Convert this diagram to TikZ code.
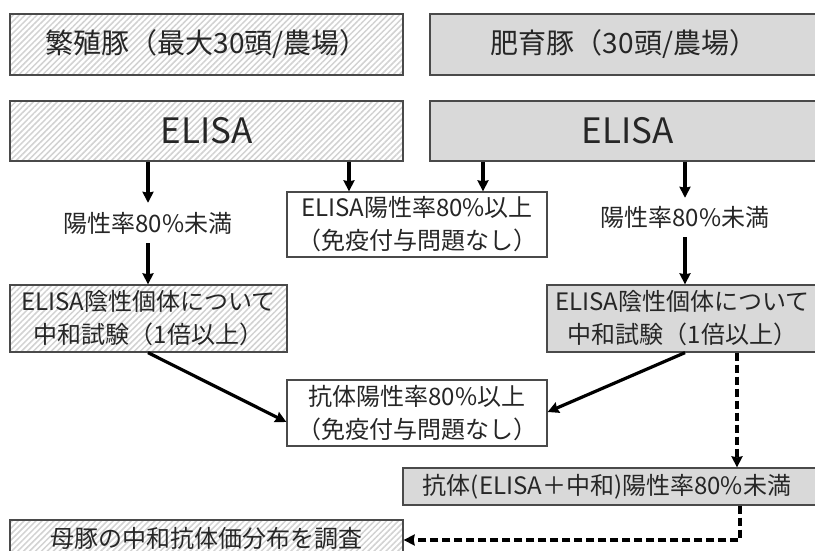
\documentclass[tikz,border=0pt]{standalone}
\usepackage{fontspec}
\setmainfont{Noto Sans CJK JP}
\usetikzlibrary{arrows.meta,patterns.meta}
\definecolor{boxgrey}{HTML}{D9D9D9}
\definecolor{hatchgrey}{HTML}{D2D2D2}
\definecolor{edge}{HTML}{4A4A4A}
\definecolor{txt}{HTML}{262626}
\tikzset{
  base/.style={draw=edge, line width=1.3pt, inner sep=0pt, align=center, text=txt,
    font=\fontsize{24}{33}\selectfont},
  hatch/.style={base, preaction={fill=white},
    pattern={Lines[angle=45,distance=4.2pt,line width=1.5pt]}, pattern color=hatchgrey},
  greybox/.style={base, fill=boxgrey},
  whitebox/.style={base, fill=white},
  lbl/.style={inner sep=0pt, text=txt, font=\fontsize{24}{28}\selectfont},
  arr/.style={line width=3.2pt, -{Stealth[length=11pt,width=11pt,inset=1pt]}},
  darr/.style={arr, dash pattern=on 8pt off 4pt},
}
\begin{document}
\begin{tikzpicture}[x=1pt,y=-1pt]
\fill[white] (0,0) rectangle (815,551);
\useasboundingbox (0,0) rectangle (815,551);
% helper coordinates
\coordinate (xa) at (349,0);
\coordinate (xb) at (483,0);
\coordinate (xc) at (148,0);
\coordinate (xd) at (685,0);
\coordinate (xe) at (737,0);
\coordinate (xf) at (740,0);
\coordinate (ya) at (0,422);
\coordinate (yb) at (0,412);
\coordinate (yc) at (0,540);
% header boxes
\node[hatch, minimum width=393pt, minimum height=61pt, font=\fontsize{28}{32}\selectfont] (tl) at (206.5,44.5) {繁殖豚（最大30頭/農場）};
\node[greybox, minimum width=388pt, minimum height=61pt, font=\fontsize{28}{32}\selectfont, text width=388pt] (tr) at (624,44.5) {肥育豚（30頭/農場）};
\node[hatch, minimum width=393pt, minimum height=60pt, font=\fontsize{35}{40}\selectfont] (el) at (206.5,131) {ELISA};
\node[greybox, minimum width=388pt, minimum height=60pt, font=\fontsize{35}{40}\selectfont, text width=388pt] (er) at (624,131) {\hspace*{8pt}ELISA};
% labels
\node[lbl, minimum height=40pt] (t1) at (148,223) {陽性率80\%未満};
\node[lbl, minimum height=39pt] (t2) at (685,217.5) {陽性率80\%未満};
% middle boxes
\node[whitebox, minimum width=260pt, minimum height=65pt] (m1) at (417,224.5) {ELISA陽性率80\%以上\\（免疫付与問題なし）};
\node[hatch, minimum width=277pt, minimum height=67pt] (nl) at (148.5,318.5) {ELISA陰性個体について\\中和試験（1倍以上）};
\node[greybox, minimum width=271pt, minimum height=67pt] (nr) at (682.5,318.5) {ELISA陰性個体について\\中和試験（1倍以上）};
\node[whitebox, minimum width=260pt, minimum height=66pt] (m2) at (417,413) {抗体陽性率80\%以上\\（免疫付与問題なし）};
\node[greybox, minimum width=415pt, minimum height=37pt, text width=415pt] (ab) at (610.5,486.5) {\hspace*{-7pt}抗体(ELISA＋中和)陽性率80\%未満};
\node[hatch, minimum width=393pt, minimum height=36pt] (mb) at (206.5,538) {母豚の中和抗体価分布を調査};
% arrows
\draw[arr] (el.south -| t1) -- (t1.north);
\draw[arr] (t1.south) -- (nl.north -| t1);
\draw[arr] (el.south -| xa) -- (m1.north -| xa);
\draw[arr] (er.south -| xb) -- (m1.north -| xb);
\draw[arr] (er.south -| t2) -- (t2.north);
\draw[arr] (t2.south) -- (nr.north -| t2);
\draw[arr] (nl.south -| xc) -- (m2.west |- ya);
\draw[arr] (nr.south -| xd) -- (m2.east |- yb);
\draw[darr] (nr.south -| xe) -- (ab.north -| xe);
\draw[darr] (ab.south -| xf) |- (mb.east |- yc);
\end{tikzpicture}
\end{document}
